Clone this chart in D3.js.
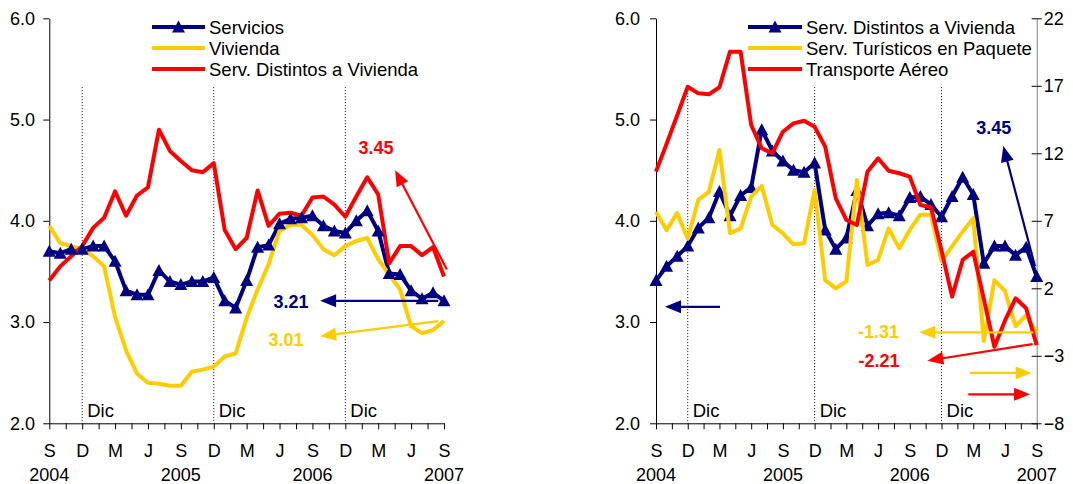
<!DOCTYPE html>
<html>
<head>
<meta charset="utf-8">
<script src="https://cdn.jsdelivr.net/npm/d3@7"></script>
<style>
  body { margin: 0; background: #fff; }
  svg { display: block; font-family: Arial, "Liberation Sans", sans-serif; }
</style>
</head>
<body>
<svg id="chart" width="1073" height="484"></svg>
<script>
// Monthly categories, Sep 2004 – Sep 2007
const months = d3.timeMonth.range(new Date(2004, 8, 1), new Date(2007, 9, 1));
const tickLabels = ["S", "D", "M", "J", "S", "D", "M", "J", "S", "D", "M", "J", "S"];
const yearLabels = ["2004", "2005", "2006", "2007"];
const decLabel = "Dic";

// Left panel (annual % change)
const servicios = [3.70, 3.68, 3.72, 3.72, 3.75, 3.75, 3.60, 3.31, 3.27, 3.27, 3.51, 3.40, 3.37,
  3.40, 3.40, 3.44, 3.21, 3.14, 3.41, 3.74, 3.76, 3.97, 4.02, 4.03, 4.05, 3.95, 3.90,
  3.88, 4.00, 4.10, 3.90, 3.48, 3.47, 3.31, 3.23, 3.29, 3.21];
const vivienda = [3.95, 3.78, 3.75, 3.72, 3.65, 3.55, 3.05, 2.72, 2.49, 2.40, 2.39, 2.37, 2.37,
  2.51, 2.53, 2.56, 2.66, 2.69, 3.04, 3.32, 3.57, 3.90, 3.96, 3.96, 3.86, 3.72, 3.66,
  3.75, 3.80, 3.83, 3.62, 3.47, 3.32, 2.96, 2.89, 2.92, 3.01];
const servDistintos = [3.41, 3.55, 3.65, 3.75, 3.93, 4.03, 4.29, 4.05, 4.25, 4.33, 4.90, 4.69, 4.59,
  4.50, 4.48, 4.57, 3.91, 3.72, 3.83, 4.30, 3.95, 4.07, 4.08, 4.05, 4.23, 4.24, 4.16,
  4.04, 4.24, 4.43, 4.26, 3.58, 3.75, 3.75, 3.66, 3.74, 3.45];

// Right panel, secondary axis series
const turisticos = [7.67, 6.30, 7.58, 5.67, 8.54, 9.16, 12.24, 6.07, 6.44, 8.79, 9.58, 6.69, 6.07,
  5.26, 5.33, 9.28, 2.61, 2.00, 2.50, 10.02, 3.73, 4.10, 6.44, 4.96, 6.32, 7.45, 7.45,
  4.00, 5.10, 6.20, 7.19, -1.90, 2.60, 1.80, -0.80, 0.00, -1.31];
const transporteAereo = [10.64, 12.70, 14.80, 16.93, 16.44, 16.37, 16.89, 19.53, 19.53, 14.10, 12.37, 12.00, 13.60,
  14.22, 14.41, 13.97, 12.49, 8.67, 7.06, 6.69, 10.64, 11.63, 10.71, 10.52, 10.27, 8.17, 8.00,
  4.80, 1.38, 4.10, 4.71, 1.20, -2.33, -0.40, 1.26, 0.52, -2.21];

const leftTicks = [2, 3, 4, 5, 6];
const rightTicks = [-8, -3, 2, 7, 12, 17, 22];

const NAVY = "#000080", GOLD = "#FFCC00", RED = "#FF0000";
const FONT = 'Arial, "Liberation Sans", sans-serif';

const svg = d3.select("#chart");

// Annotations, in (month index, value) coordinates; axis "L" = left scale, "R" = right scale
const panels = [
  {
    range: [49.3, 444], labelPad: 8.3, secondary: false, legendX: [152, 205],
    series: [
      { name: "Servicios", values: servicios, color: NAVY, marker: true, axis: "L" },
      { name: "Vivienda", values: vivienda, color: GOLD, axis: "L" },
      { name: "Serv. Distintos a Vivienda", values: servDistintos, color: RED, axis: "L" }
    ],
    notes: [
      { text: "3.45", color: RED, at: [29.8, 4.72], axis: "L" },
      { text: "3.21", color: NAVY, at: [22.05, 3.20], axis: "L" },
      { text: "3.01", color: GOLD, at: [21.6, 2.825], axis: "L" }
    ],
    arrows: [
      { color: RED, from: [36.26, 3.52], to: [31.54, 4.50], axis: "L" },
      { color: NAVY, from: [35.47, 3.21], to: [24.7, 3.21], axis: "L" },
      { color: GOLD, from: [35.47, 3.01], to: [24.7, 2.86], axis: "L" }
    ]
  },
  {
    range: [656, 1036.7], labelPad: 10, secondary: true, legendX: [748, 802],
    series: [
      { name: "Serv. Distintos a Vivienda", values: servDistintos, color: NAVY, marker: true, axis: "L" },
      { name: "Serv. Turísticos en Paquete", values: turisticos, color: GOLD, axis: "R" },
      { name: "Transporte Aéreo", values: transporteAereo, color: RED, axis: "R" }
    ],
    notes: [
      { text: "3.45", color: NAVY, at: [31.95, 4.92], axis: "L" },
      { text: "-1.31", color: GOLD, at: [21.04, -1.2], axis: "R" },
      { text: "-2.21", color: RED, at: [21.09, -3.42], axis: "R" }
    ],
    arrows: [
      { color: NAVY, from: [35.84, 3.55], to: [32.84, 4.74], axis: "L" },
      { color: NAVY, from: [6.05, 3.15], to: [0.85, 3.15], axis: "L" },
      { color: GOLD, from: [35.68, -1.26], to: [24.9, -1.26], axis: "R" },
      { color: RED, from: [35.62, -2.13], to: [25.66, -3.36], axis: "R" },
      { color: GOLD, from: [29.7, -4.27], to: [35.53, -4.27], axis: "R" },
      { color: RED, from: [29.53, -5.85], to: [35.37, -5.85], axis: "R" }
    ]
  }
];

const triangle = "M0,-6.5L6.5,5.5L-6.5,5.5Z";

function arrow(g, x1, y1, x2, y2, color) {
  const len = 16, half = 6.5;
  const dx = x2 - x1, dy = y2 - y1, L = Math.hypot(dx, dy);
  const ux = dx / L, uy = dy / L;
  const bx = x2 - ux * len, by = y2 - uy * len;
  g.append("line")
    .attr("x1", x1).attr("y1", y1).attr("x2", bx + ux * 2).attr("y2", by + uy * 2)
    .attr("stroke", color).attr("stroke-width", 2.2);
  g.append("path")
    .attr("d", `M${x2},${y2}L${bx - uy * half},${by + ux * half}L${bx + uy * half},${by - ux * half}Z`)
    .attr("fill", color);
}

function styleAxis(sel, color) {
  sel.attr("font-size", 18).attr("font-family", FONT);
  sel.selectAll("path, line").attr("stroke", color || "#000");
  sel.selectAll("text").attr("fill", "#000");
}

panels.forEach(p => {
  const g = svg.append("g");
  const x = d3.scaleLinear().domain([0, months.length - 1]).range(p.range);
  const yL = d3.scaleLinear().domain([2, 6]).range([423.3, 18.3]);
  const yR = d3.scaleLinear().domain([-8, 22]).range([423.3, 18.3]);
  const sc = a => (a === "R" ? yR : yL);

  // December reference lines
  months.forEach((m, i) => {
    if (m.getMonth() !== 11) return;
    g.append("line")
      .attr("x1", x(i)).attr("x2", x(i))
      .attr("y1", yL(5.32)).attr("y2", yL(2))
      .attr("stroke", "#000").attr("stroke-width", 1)
      .attr("stroke-dasharray", "1,2");
    g.append("text")
      .attr("x", x(i) + 5).attr("y", yL(2) - 6)
      .attr("font-size", 18.5).attr("font-family", FONT)
      .text(decLabel);
  });

  // Bottom axis: a tick every month and a half, letters every quarter
  const xAxis = g.append("g")
    .attr("transform", `translate(0,${yL(2)})`)
    .call(d3.axisBottom(x)
      .tickValues(d3.range(0, months.length - 0.999, 1.5))
      .tickSize(6).tickSizeOuter(0).tickPadding(15)
      .tickFormat(d => (d % 3 === 0 ? tickLabels[d / 3] : "")));
  styleAxis(xAxis);

  // Year labels under each September
  months.forEach((m, i) => {
    if (m.getMonth() !== 8) return;
    g.append("text")
      .attr("x", x(i)).attr("y", 481)
      .attr("text-anchor", "middle")
      .attr("font-size", 18).attr("font-family", FONT)
      .text(yearLabels[m.getFullYear() - 2004]);
  });

  // Left value axis
  const yAxis = g.append("g")
    .attr("transform", `translate(${p.range[0]},0)`)
    .call(d3.axisLeft(yL).tickValues(leftTicks).tickFormat(d3.format(".1f"))
      .tickSize(6).tickSizeOuter(0).tickPadding(p.labelPad));
  styleAxis(yAxis);

  // Right value axis with ticks crossing the line
  if (p.secondary) {
    const rAxis = g.append("g")
      .attr("transform", `translate(${p.range[1]},0)`)
      .call(d3.axisRight(yR).tickValues(rightTicks).tickFormat(d3.format("d"))
        .tickSize(5).tickSizeOuter(0).tickPadding(2));
    styleAxis(rAxis, "#808080");
    rAxis.selectAll(".tick line").attr("stroke", "#000");
    const rInner = g.append("g")
      .attr("transform", `translate(${p.range[1]},0)`)
      .call(d3.axisLeft(yR).tickValues(rightTicks).tickFormat("").tickSize(5).tickSizeOuter(0));
    rInner.select(".domain").remove();
    rInner.selectAll("line").attr("stroke", "#000");
  }

  // Series: primary group (lines, then markers), then secondary group
  const drawLine = s => {
    const y = sc(s.axis);
    g.append("path")
      .datum(s.values)
      .attr("fill", "none")
      .attr("stroke", s.color)
      .attr("stroke-width", 4)
      .attr("stroke-linejoin", "round")
      .attr("d", d3.line().x((d, i) => x(i)).y(d => y(d)));
  };
  const drawMarkers = s => {
    const y = sc(s.axis);
    g.append("g").selectAll("path")
      .data(s.values)
      .join("path")
      .attr("d", triangle)
      .attr("transform", (d, i) => `translate(${x(i)},${y(d)})`)
      .attr("fill", s.color);
  };
  const primary = p.series.filter(s => s.axis === "L");
  const secondary = p.series.filter(s => s.axis === "R");
  primary.forEach(drawLine);
  primary.filter(s => s.marker).forEach(drawMarkers);
  secondary.forEach(drawLine);

  // Legend
  const lg = g.append("g");
  p.series.forEach((s, k) => {
    const ly = 27 + k * 21;
    lg.append("line")
      .attr("x1", p.legendX[0]).attr("x2", p.legendX[1])
      .attr("y1", ly).attr("y2", ly)
      .attr("stroke", s.color).attr("stroke-width", 4);
    if (s.marker) {
      lg.append("path").attr("d", triangle)
        .attr("transform", `translate(${(p.legendX[0] + p.legendX[1]) / 2},${ly})`)
        .attr("fill", s.color);
    }
    lg.append("text")
      .attr("x", p.legendX[1] + 4).attr("y", ly)
      .attr("dominant-baseline", "central")
      .attr("font-size", 18.5).attr("font-family", FONT)
      .text(s.name);
  });

  // Value call-outs and arrows
  p.arrows.forEach(a => {
    const y = sc(a.axis);
    arrow(g, x(a.from[0]), y(a.from[1]), x(a.to[0]), y(a.to[1]), a.color);
  });
  p.notes.forEach(n => {
    g.append("text")
      .attr("x", x(n.at[0])).attr("y", sc(n.axis)(n.at[1]))
      .attr("text-anchor", "middle").attr("dominant-baseline", "central")
      .attr("font-size", 18).attr("font-weight", "bold").attr("font-family", FONT)
      .attr("fill", n.color)
      .text(n.text);
  });
});
</script>
</body>
</html>
